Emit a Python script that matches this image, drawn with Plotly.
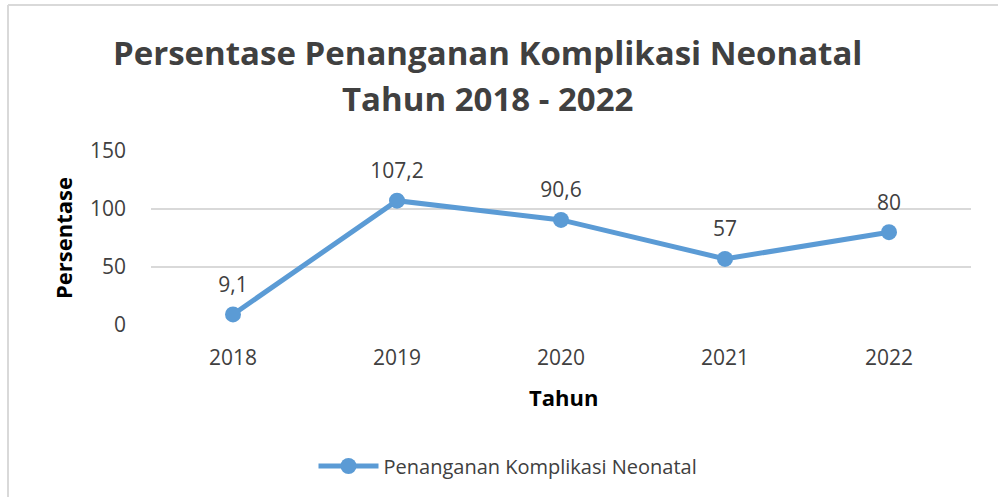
import plotly.graph_objects as go

years = ["2018", "2019", "2020", "2021", "2022"]
values = [9.1, 107.2, 90.6, 57, 80]
labels = ["9,1", "107,2", "90,6", "57", "80"]
series_name = "Penanganan Komplikasi Neonatal"
y_ticks = [0, 50, 100, 150]

W, H = 998, 497
L, R, T, B = 151, 971, 151, 325
pw, ph = R - L, B - T

def px_x(x):
    return (x - L) / pw

def px_y(y):
    return (B - y) / ph

blue = "#5B9BD5"
txt = "#404040"
font = "Open Sans"

fig = go.Figure()
fig.add_trace(go.Scatter(
    x=years, y=values, mode="lines+markers", name=series_name,
    line=dict(color=blue, width=5), marker=dict(color=blue, size=16),
    cliponaxis=False,
))
# data labels
fig.add_trace(go.Scatter(
    x=years, y=values, mode="markers+text", showlegend=False, hoverinfo="skip",
    marker=dict(color="rgba(0,0,0,0)", size=26),
    text=labels, textposition="top center",
    textfont=dict(family=font, size=21, color=txt),
    cliponaxis=False,
))

fig.update_layout(
    width=W, height=H, autosize=False,
    margin=dict(l=L, r=W - R, t=T, b=H - B, pad=0, autoexpand=False),
    paper_bgcolor="white", plot_bgcolor="white",
    font=dict(family=font, color=txt),
    showlegend=True,
    legend=dict(orientation="h", x=px_x(508), xanchor="center", y=px_y(466), yanchor="middle",
                font=dict(family=font, size=20, color=txt), itemwidth=60),
    xaxis=dict(type="category", range=[-0.5, 4.5], autorange=False, automargin=False,
               showgrid=False, zeroline=False, showline=False, ticks="",
               tickfont=dict(family=font, size=21, color=txt), ticklabelstandoff=18),
    yaxis=dict(range=[0, 150], autorange=False, automargin=False, tickvals=y_ticks,
               showgrid=True, gridcolor="#D9D9D9", gridwidth=2,
               zeroline=False, showline=False, ticks="",
               tickfont=dict(family=font, size=21, color=txt), ticklabelstandoff=24),
    annotations=[
        dict(text="<b>Persentase Penanganan Komplikasi Neonatal</b>", xref="paper", yref="paper",
             x=px_x(487), y=px_y(53), showarrow=False, font=dict(family=font, size=33, color=txt),
             xanchor="center", yanchor="middle"),
        dict(text="<b>Tahun 2018 - 2022</b>", xref="paper", yref="paper",
             x=px_x(487), y=px_y(98), showarrow=False, font=dict(family=font, size=33, color=txt),
             xanchor="center", yanchor="middle"),
        dict(text="<b>Persentase</b>", xref="paper", yref="paper", textangle=-90,
             x=px_x(63), y=px_y(238), showarrow=False, font=dict(family=font, size=22, color="black"),
             xanchor="center", yanchor="middle"),
        dict(text="<b>Tahun</b>", xref="paper", yref="paper",
             x=px_x(563), y=px_y(397), showarrow=False, font=dict(family=font, size=22, color="black"),
             xanchor="center", yanchor="middle"),
    ],
    shapes=[
        dict(type="line", xref="paper", yref="paper", x0=px_x(8), x1=px_x(1010), y0=px_y(5), y1=px_y(5),
             line=dict(color="#D9D9D9", width=2)),
        dict(type="line", xref="paper", yref="paper", x0=px_x(8), x1=px_x(8), y0=px_y(5), y1=px_y(510),
             line=dict(color="#D9D9D9", width=2)),
    ],
)

fig.write_html("out.html", config={"displayModeBar": False},
               post_script="document.body.style.margin='0';")
